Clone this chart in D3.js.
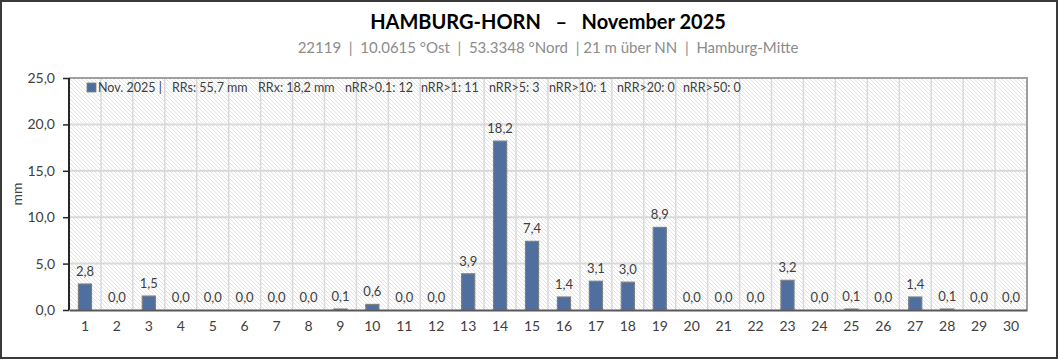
<!DOCTYPE html>
<html>
<head>
<meta charset="utf-8">
<script src="https://cdn.jsdelivr.net/npm/d3@7"></script>
<style>
  body { margin: 0; background: #fff; }
  svg { display: block; font-family: Lato, "Open Sans", sans-serif; }
</style>
</head>
<body>
<div id="chart"></div>
<script>
const days = d3.range(1, 31).map(String);
const rain = [2.8, 0.0, 1.5, 0.0, 0.0, 0.0, 0.0, 0.0, 0.1, 0.6,
              0.0, 0.0, 3.9, 18.2, 7.4, 1.4, 3.1, 3.0, 8.9, 0.0,
              0.0, 0.0, 3.2, 0.0, 0.1, 0.0, 1.4, 0.1, 0.0, 0.0];
const yTicks = [0, 5, 10, 15, 20, 25];
const title = "HAMBURG-HORN   –   November 2025";
const subtitle = "22119  |  10.0615 °Ost  |  53.3348 °Nord  | 21 m über NN  |  Hamburg-Mitte";
const legendItems = ["Nov. 2025 |", "RRs: 55,7 mm", "RRx: 18,2 mm", "nRR>0.1: 12",
                     "nRR>1: 11", "nRR>5: 3", "nRR>10: 1", "nRR>20: 0", "nRR>50: 0"];

const W = 1059, H = 360;
const margin = {top: 78, right: 32, bottom: 50, left: 69};
const width = W - margin.left - margin.right,
      height = H - margin.top - margin.bottom;

const fmt = v => d3.format(".1f")(v).replace(".", ",");

const svg = d3.select("#chart").append("svg")
    .attr("width", W)
    .attr("height", H);

// hatch pattern for plot background
const defs = svg.append("defs");
const pat = defs.append("pattern")
    .attr("id", "hatch")
    .attr("patternUnits", "userSpaceOnUse")
    .attr("width", 4)
    .attr("height", 4);
pat.append("rect").attr("width", 4).attr("height", 4).attr("fill", "#ffffff");
pat.append("path")
    .attr("d", "M-1,-1 L5,5 M-1,3 L1,5 M3,-1 L5,1")
    .attr("stroke", "#e4e4e4")
    .attr("stroke-width", 1);

// outer frame
svg.append("rect")
    .attr("x", 1).attr("y", 1)
    .attr("width", W - 3).attr("height", H - 3)
    .attr("fill", "none")
    .attr("stroke", "#3a3a3a")
    .attr("stroke-width", 2);

svg.append("text")
    .attr("x", margin.left + width / 2)
    .attr("y", 29)
    .attr("text-anchor", "middle")
    .attr("font-size", 20)
    .attr("font-weight", "bold")
    .attr("fill", "#000")
    .style("white-space", "pre")
    .text(title);

svg.append("text")
    .attr("x", margin.left + width / 2)
    .attr("y", 53)
    .attr("text-anchor", "middle")
    .attr("font-size", 15)
    .attr("fill", "#8c8c8c")
    .style("white-space", "pre")
    .text(subtitle);

const g = svg.append("g")
    .attr("transform", `translate(${margin.left},${margin.top})`);

const x = d3.scaleBand().domain(days).range([0, width]).paddingInner(0).paddingOuter(0);
const y = d3.scaleLinear().domain([0, 25]).range([height, 0]);

g.append("rect")
    .attr("width", width)
    .attr("height", height)
    .attr("fill", "url(#hatch)");

// grid
g.append("g").selectAll("line")
    .data(days.slice(1))
    .join("line")
    .attr("x1", d => x(d)).attr("x2", d => x(d))
    .attr("y1", 0).attr("y2", height)
    .attr("stroke", "#d9d9d9")
    .attr("stroke-width", 1.5);

g.append("g").selectAll("line")
    .data(yTicks.slice(1, -1))
    .join("line")
    .attr("x1", 0).attr("x2", width)
    .attr("y1", d => y(d)).attr("y2", d => y(d))
    .attr("stroke", "#d9d9d9")
    .attr("stroke-width", 2);

// plot border (top/right)
g.append("path")
    .attr("d", `M0,0 H${width} V${height}`)
    .attr("fill", "none")
    .attr("stroke", "#a0a0a0")
    .attr("stroke-width", 2);

// bars
const bw = x.bandwidth() * 0.41;
g.append("g").selectAll("rect")
    .data(rain)
    .join("rect")
    .attr("x", (d, i) => x(days[i]) + (x.bandwidth() - bw) / 2)
    .attr("y", d => y(d))
    .attr("width", bw)
    .attr("height", d => height - y(d))
    .attr("fill", "#4f6f9f")
    .attr("stroke", "#7f7f7f")
    .attr("stroke-width", 1.2);

// value labels
g.append("g").selectAll("text")
    .data(rain)
    .join("text")
    .attr("x", (d, i) => x(days[i]) + x.bandwidth() / 2)
    .attr("y", d => y(d) - 8)
    .attr("text-anchor", "middle")
    .attr("font-size", 13)
    .attr("fill", "#404040")
    .text(d => fmt(d));

// axes
const yAxis = g.append("g")
    .call(d3.axisLeft(y).tickValues(yTicks).tickFormat(fmt).tickSize(6).tickPadding(8));
yAxis.select(".domain").attr("stroke", "#262626").attr("stroke-width", 2).attr("d", `M0,0V${height}`);
yAxis.selectAll(".tick line").attr("stroke", "#262626").attr("stroke-width", 1.5);
yAxis.selectAll("text").attr("font-size", 14).attr("fill", "#404040").attr("font-family", "Lato, sans-serif");

const xAxis = g.append("g")
    .attr("transform", `translate(0,${height})`)
    .call(d3.axisBottom(x).tickSize(0).tickPadding(11));
xAxis.select(".domain").attr("stroke", "#595959").attr("stroke-width", 2);
xAxis.selectAll("text").attr("font-size", 14).attr("fill", "#404040").attr("font-family", "Lato, sans-serif");

svg.append("text")
    .attr("transform", `translate(22,${margin.top + height / 2}) rotate(-90)`)
    .attr("text-anchor", "middle")
    .attr("font-size", 14)
    .attr("fill", "#404040")
    .text("mm");

// legend line
const legend = g.append("g").attr("transform", "translate(18,10)");
legend.append("rect")
    .attr("x", 0).attr("y", -5)
    .attr("width", 9).attr("height", 9)
    .attr("fill", "#4f6f9f")
    .attr("stroke", "#7f7f7f")
    .attr("stroke-width", 0.8);
const legendX = [11, 85, 171, 258, 334, 402, 462, 530, 596];
legend.selectAll("text.item")
    .data(legendItems)
    .join("text")
    .attr("class", "item")
    .attr("x", (d, i) => legendX[i])
    .attr("y", 4)
    .attr("font-size", 12.5)
    .attr("fill", "#404040")
    .text(d => d);
</script>
</body>
</html>
